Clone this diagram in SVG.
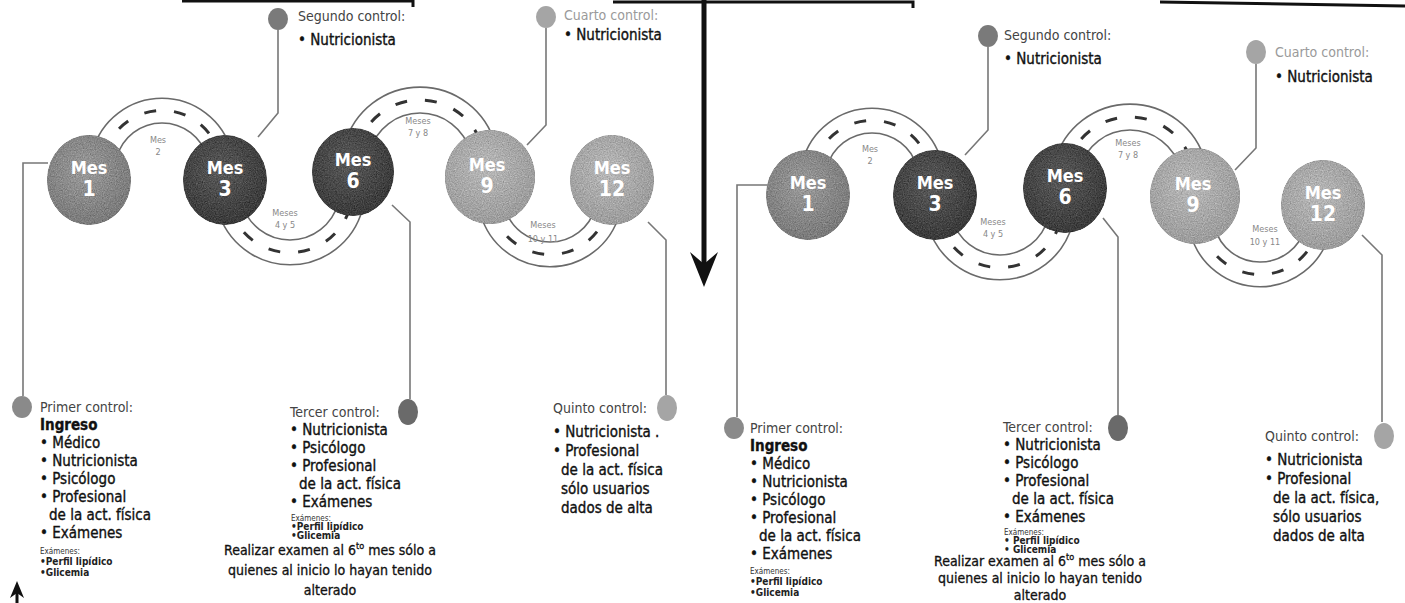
<svg xmlns="http://www.w3.org/2000/svg" width="1405" height="603" viewBox="0 0 1405 603">
<defs>
<radialGradient id="gMid" cx="45%" cy="40%" r="60%"><stop offset="0" stop-color="#9a9a9a"/><stop offset="1" stop-color="#7a7a7a"/></radialGradient>
<radialGradient id="gDark" cx="45%" cy="40%" r="60%"><stop offset="0" stop-color="#5a5a5a"/><stop offset="1" stop-color="#3a3a3a"/></radialGradient>
<radialGradient id="gLight" cx="45%" cy="40%" r="60%"><stop offset="0" stop-color="#b8b8b8"/><stop offset="1" stop-color="#9c9c9c"/></radialGradient>
<filter id="grain" x="0" y="0" width="100%" height="100%" color-interpolation-filters="sRGB">
<feTurbulence type="fractalNoise" baseFrequency="0.85" numOctaves="2" seed="4" result="n"/>
<feColorMatrix in="n" type="matrix" values="0.33 0.33 0.33 0 0  0.33 0.33 0.33 0 0  0.33 0.33 0.33 0 0  0 0 0 0 1" result="g"/>
<feComposite in="SourceGraphic" in2="g" operator="arithmetic" k1="0" k2="1" k3="0.5" k4="-0.25" result="m"/>
<feComposite in="m" in2="SourceAlpha" operator="in"/>
</filter>
</defs>
<style>
.road{fill:none;stroke:#6a6a6a;stroke-width:1.6}
.dash{fill:none;stroke:#333;stroke-width:3;stroke-dasharray:12 18}
.lead{fill:none;stroke:#777;stroke-width:1.6}
.frame{fill:none;stroke:#111;stroke-width:3}
.ball{filter:url(#grain)}
.mes{font-family:"Liberation Sans Narrow","DejaVu Sans Condensed","Liberation Sans",sans-serif;font-weight:bold;fill:#fff;text-anchor:middle}
.rl{font-family:"Liberation Sans Narrow","DejaVu Sans Condensed","Liberation Sans",sans-serif;font-size:9px;fill:#888;text-anchor:middle}
.t{font-family:"Liberation Sans Narrow","DejaVu Sans Condensed","Liberation Sans",sans-serif;font-size:15px;fill:#111;stroke:#111;stroke-width:0.35}
.r{font-family:"Liberation Sans Narrow","DejaVu Sans Condensed","Liberation Sans",sans-serif;font-size:14px;fill:#111;stroke:#111;stroke-width:0.3;text-anchor:middle}
.h{font-family:"Liberation Sans Narrow","DejaVu Sans Condensed","Liberation Sans",sans-serif;font-size:14px;fill:#444}
.hl{font-family:"Liberation Sans Narrow","DejaVu Sans Condensed","Liberation Sans",sans-serif;font-size:14px;fill:#9a9a9a}
.b{font-weight:bold}
.s{font-family:"Liberation Sans Narrow","DejaVu Sans Condensed","Liberation Sans",sans-serif;font-size:8px;fill:#333}
.sb{font-family:"Liberation Sans Narrow","DejaVu Sans Condensed","Liberation Sans",sans-serif;font-size:10px;font-weight:bold;fill:#222}
</style>

<g id="connectors">
<path class="frame" d="M182,1 H413 V7"/>
<path class="frame" d="M613,2 H913 V8"/>
<path class="frame" d="M1160,2 L1405,6" stroke-width="4"/>
<path d="M704,0 V268" stroke="#111" stroke-width="5" fill="none"/>
<path d="M690,252 L704,287 L718,252 L704,264 Z" fill="#111"/>
<path d="M17,603 V590" stroke="#111" stroke-width="3" fill="none"/>
<path d="M10,598 L17,581 L24,598 L17,593 Z" fill="#111"/>

<path class="road" d="M92.5,151.4 A72,72 0 0 1 231.5,151.4"/>
<path class="road" d="M116.6,157.8 A47,47 0 0 1 207.4,157.8"/>
<path class="dash" d="M104.5,154.6 A59.5,59.5 0 0 1 219.5,154.6"/>
<path class="road" d="M217.6,209.4 A75,75 0 0 0 362.4,209.4"/>
<path class="road" d="M241.7,202.9 A50,50 0 0 0 338.3,202.9"/>
<path class="dash" d="M229.6,206.2 A62.5,62.5 0 0 0 350.4,206.2"/>
<path class="road" d="M344.7,144.8 A78,78 0 0 1 495.3,144.8"/>
<path class="road" d="M369.8,151.5 A52,52 0 0 1 470.2,151.5"/>
<path class="dash" d="M357.2,148.2 A65,65 0 0 1 482.8,148.2"/>
<path class="road" d="M480.5,213.6 A72,72 0 0 0 619.5,213.6"/>
<path class="road" d="M504.6,207.2 A47,47 0 0 0 595.4,207.2"/>
<path class="dash" d="M492.5,210.4 A59.5,59.5 0 0 0 607.5,210.4"/>

<path class="road" d="M802.5,161.4 A72,72 0 0 1 941.5,161.4"/>
<path class="road" d="M826.6,167.8 A47,47 0 0 1 917.4,167.8"/>
<path class="dash" d="M814.5,164.6 A59.5,59.5 0 0 1 929.5,164.6"/>
<path class="road" d="M927.6,224.4 A75,75 0 0 0 1072.4,224.4"/>
<path class="road" d="M951.7,217.9 A50,50 0 0 0 1048.3,217.9"/>
<path class="dash" d="M939.6,221.2 A62.5,62.5 0 0 0 1060.4,221.2"/>
<path class="road" d="M1054.7,161.8 A78,78 0 0 1 1205.3,161.8"/>
<path class="road" d="M1079.8,168.5 A52,52 0 0 1 1180.2,168.5"/>
<path class="dash" d="M1067.2,165.2 A65,65 0 0 1 1192.8,165.2"/>
<path class="road" d="M1190.5,233.6 A72,72 0 0 0 1329.5,233.6"/>
<path class="road" d="M1214.6,227.2 A47,47 0 0 0 1305.4,227.2"/>
<path class="dash" d="M1202.5,230.4 A59.5,59.5 0 0 0 1317.5,230.4"/>

<path class="lead" d="M48,163 H23 V396"/>
<path class="lead" d="M278,30 V113 L258,137"/>
<path class="lead" d="M392,205 L410,222 V399"/>
<path class="lead" d="M546,28 V125 L527,145"/>
<path class="lead" d="M648,222 L666,240 V395"/>
<path class="lead" d="M767,185 H737 V417"/>
<path class="lead" d="M988,47 V130 L965,155"/>
<path class="lead" d="M1103,218 L1118,237 V415"/>
<path class="lead" d="M1256,64 V148 L1235,170"/>
<path class="lead" d="M1362,235 L1382,255 V422"/>
</g>

<g id="road-labels">
<text class="rl" x="158" y="143">Mes</text><text class="rl" x="158" y="155">2</text>
<text class="rl" x="285" y="216">Meses</text><text class="rl" x="285" y="228">4 y 5</text>
<text class="rl" x="418" y="124">Meses</text><text class="rl" x="418" y="136">7 y 8</text>
<text class="rl" x="543" y="228">Meses</text><text class="rl" x="543" y="242">10 y 11</text>
<text class="rl" x="870" y="152">Mes</text><text class="rl" x="870" y="164">2</text>
<text class="rl" x="993" y="225">Meses</text><text class="rl" x="993" y="237">4 y 5</text>
<text class="rl" x="1128" y="146">Meses</text><text class="rl" x="1128" y="158">7 y 8</text>
<text class="rl" x="1265" y="232">Meses</text><text class="rl" x="1265" y="245">10 y 11</text>
</g>

<g id="L-mes1"><ellipse class="ball" cx="89" cy="180" rx="42" ry="45" fill="url(#gMid)"/><text class="mes" x="89" y="174" font-size="18">Mes</text><text class="mes" x="89" y="196" font-size="21">1</text></g>
<g id="L-mes3"><ellipse class="ball" cx="225" cy="180" rx="42" ry="45" fill="url(#gDark)"/><text class="mes" x="225" y="174" font-size="18">Mes</text><text class="mes" x="225" y="196" font-size="21">3</text></g>
<g id="L-mes6"><ellipse class="ball" cx="353" cy="172" rx="41" ry="44" fill="url(#gDark)"/><text class="mes" x="353" y="166" font-size="18">Mes</text><text class="mes" x="353" y="188" font-size="21">6</text></g>
<g id="L-mes9"><ellipse class="ball" cx="490" cy="177" rx="45" ry="47" fill="url(#gLight)"/><text class="mes" x="487" y="171" font-size="18">Mes</text><text class="mes" x="487" y="193" font-size="21">9</text></g>
<g id="L-mes12"><ellipse class="ball" cx="612" cy="180" rx="42" ry="45" fill="url(#gLight)"/><text class="mes" x="612" y="174" font-size="18">Mes</text><text class="mes" x="612" y="196" font-size="21">12</text></g>

<g id="R-mes1"><ellipse class="ball" cx="808" cy="195" rx="42" ry="45" fill="url(#gMid)"/><text class="mes" x="808" y="189" font-size="18">Mes</text><text class="mes" x="808" y="211" font-size="21">1</text></g>
<g id="R-mes3"><ellipse class="ball" cx="935" cy="195" rx="42" ry="45" fill="url(#gDark)"/><text class="mes" x="935" y="189" font-size="18">Mes</text><text class="mes" x="935" y="211" font-size="21">3</text></g>
<g id="R-mes6"><ellipse class="ball" cx="1065" cy="188" rx="42" ry="45" fill="url(#gDark)"/><text class="mes" x="1065" y="182" font-size="18">Mes</text><text class="mes" x="1065" y="204" font-size="21">6</text></g>
<g id="R-mes9"><ellipse class="ball" cx="1195" cy="196" rx="45" ry="48" fill="url(#gLight)"/><text class="mes" x="1193" y="190" font-size="18">Mes</text><text class="mes" x="1193" y="212" font-size="21">9</text></g>
<g id="R-mes12"><ellipse class="ball" cx="1323" cy="205" rx="42" ry="45" fill="url(#gLight)"/><text class="mes" x="1323" y="199" font-size="18">Mes</text><text class="mes" x="1323" y="221" font-size="21">12</text></g>

<g id="L-primer">
<ellipse cx="22" cy="407" rx="10" ry="11" fill="#8a8a8a"/>
<text class="h" x="40" y="412">Primer control:</text>
<text class="t b" x="40" y="430">Ingreso</text>
<text class="t" x="40" y="448">• Médico</text>
<text class="t" x="40" y="466">• Nutricionista</text>
<text class="t" x="40" y="484">• Psicólogo</text>
<text class="t" x="40" y="502">• Profesional</text>
<text class="t" x="49" y="520">de la act. física</text>
<text class="t" x="40" y="538">• Exámenes</text>
<text class="s" x="40" y="554">Exámenes:</text>
<text class="sb" x="40" y="565">•Perfil lipídico</text>
<text class="sb" x="40" y="576">•Glicemia</text>
</g>
<g id="L-segundo">
<ellipse cx="278" cy="19" rx="10" ry="11" fill="#7a7a7a"/>
<text class="h" x="298" y="21">Segundo control:</text>
<text class="t" x="298" y="45">• Nutricionista</text>
</g>
<g id="L-tercer">
<ellipse cx="408" cy="412" rx="10" ry="13" fill="#6a6a6a"/>
<text class="h" x="290" y="417">Tercer control:</text>
<text class="t" x="290" y="435">• Nutricionista</text>
<text class="t" x="290" y="453">• Psicólogo</text>
<text class="t" x="290" y="471">• Profesional</text>
<text class="t" x="299" y="489">de la act. física</text>
<text class="t" x="290" y="507">• Exámenes</text>
<text class="s" x="291" y="521">Exámenes:</text>
<text class="sb" x="291" y="530">•Perfil lipídico</text>
<text class="sb" x="291" y="539">•Glicemia</text>
<text class="r" x="330" y="555">Realizar examen al 6<tspan font-size="9" dy="-6">to</tspan><tspan dy="6"> mes sólo a</tspan></text>
<text class="r" x="330" y="575">quienes al inicio lo hayan tenido</text>
<text class="r" x="330" y="595">alterado</text>
</g>
<g id="L-cuarto">
<ellipse cx="546" cy="17" rx="10" ry="11" fill="#a5a5a5"/>
<text class="hl" x="564" y="20">Cuarto control:</text>
<text class="t" x="564" y="40">• Nutricionista</text>
</g>
<g id="L-quinto">
<ellipse cx="667" cy="408" rx="10" ry="13" fill="#a5a5a5"/>
<text class="h" x="553" y="413">Quinto control:</text>
<text class="t" x="553" y="437">• Nutricionista .</text>
<text class="t" x="553" y="456">• Profesional</text>
<text class="t" x="561" y="475">de la act. física</text>
<text class="t" x="561" y="494">sólo usuarios</text>
<text class="t" x="561" y="513">dados de alta</text>
</g>

<g id="R-primer">
<ellipse cx="734" cy="428" rx="10" ry="11" fill="#8a8a8a"/>
<text class="h" x="750" y="433">Primer control:</text>
<text class="t b" x="750" y="451">Ingreso</text>
<text class="t" x="750" y="469">• Médico</text>
<text class="t" x="750" y="487">• Nutricionista</text>
<text class="t" x="750" y="505">• Psicólogo</text>
<text class="t" x="750" y="523">• Profesional</text>
<text class="t" x="759" y="541">de la act. física</text>
<text class="t" x="750" y="559">• Exámenes</text>
<text class="s" x="750" y="574">Exámenes:</text>
<text class="sb" x="750" y="585">•Perfil lipídico</text>
<text class="sb" x="750" y="596">•Glicemia</text>
</g>
<g id="R-segundo">
<ellipse cx="988" cy="36" rx="10" ry="11" fill="#7a7a7a"/>
<text class="h" x="1004" y="40">Segundo control:</text>
<text class="t" x="1004" y="64">• Nutricionista</text>
</g>
<g id="R-tercer">
<ellipse cx="1118" cy="428" rx="10" ry="13" fill="#6a6a6a"/>
<text class="h" x="1003" y="432">Tercer control:</text>
<text class="t" x="1003" y="450">• Nutricionista</text>
<text class="t" x="1003" y="468">• Psicólogo</text>
<text class="t" x="1003" y="486">• Profesional</text>
<text class="t" x="1012" y="504">de la act. física</text>
<text class="t" x="1003" y="522">• Exámenes</text>
<text class="s" x="1004" y="535">Exámenes:</text>
<text class="sb" x="1004" y="544">• Perfil lipídico</text>
<text class="sb" x="1004" y="553">• Glicemia</text>
<text class="r" x="1040" y="566">Realizar examen al 6<tspan font-size="9" dy="-6">to</tspan><tspan dy="6"> mes sólo a</tspan></text>
<text class="r" x="1040" y="583">quienes al inicio lo hayan tenido</text>
<text class="r" x="1040" y="600">alterado</text>
</g>
<g id="R-cuarto">
<ellipse cx="1256" cy="52" rx="10" ry="12" fill="#a5a5a5"/>
<text class="hl" x="1275" y="57">Cuarto control:</text>
<text class="t" x="1275" y="82">• Nutricionista</text>
</g>
<g id="R-quinto">
<ellipse cx="1384" cy="436" rx="10" ry="13" fill="#a5a5a5"/>
<text class="h" x="1265" y="441">Quinto control:</text>
<text class="t" x="1265" y="465">• Nutricionista</text>
<text class="t" x="1265" y="484">• Profesional</text>
<text class="t" x="1273" y="503">de la act. física,</text>
<text class="t" x="1273" y="522">sólo usuarios</text>
<text class="t" x="1273" y="541">dados de alta</text>
</g>
</svg>
